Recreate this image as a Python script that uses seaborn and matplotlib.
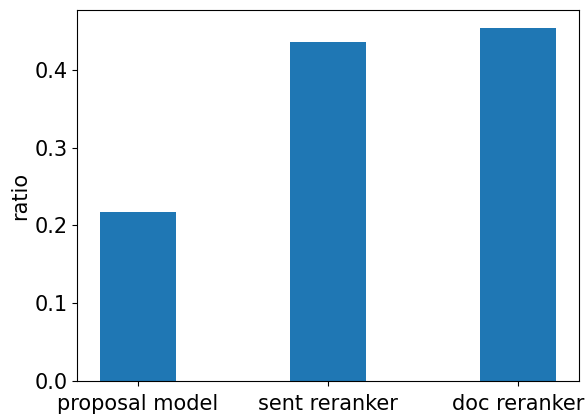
import matplotlib
matplotlib.use("Agg")
import matplotlib.pyplot as plt
import seaborn as sns
import pandas as pd

categories = ["proposal model", "sent reranker", "doc reranker"]
ratios = [0.217, 0.436, 0.454]

df = pd.DataFrame({"model": categories, "ratio": ratios})

plt.rcParams["font.family"] = ["DejaVu Sans"]
fig = plt.figure(figsize=(5.85, 4.17), dpi=100)
ax = fig.add_axes([0.1316, 0.0863, 0.8581, 0.8897])
sns.barplot(data=df, x="model", y="ratio", color="#1f77b4", saturation=1,
            width=0.4, ax=ax, errorbar=None)
ax.set_xlabel("")
ax.set_ylabel("ratio", fontsize=15, labelpad=3)
ax.tick_params(labelsize=15)
ax.tick_params(axis="x", pad=6)
ax.set_xlim(-0.32, 2.32)
ax.set_ylim(0, max(ratios) * 1.05)
ax.set_yticks([0.0, 0.1, 0.2, 0.3, 0.4])
fig.savefig("out.png", dpi=100)
